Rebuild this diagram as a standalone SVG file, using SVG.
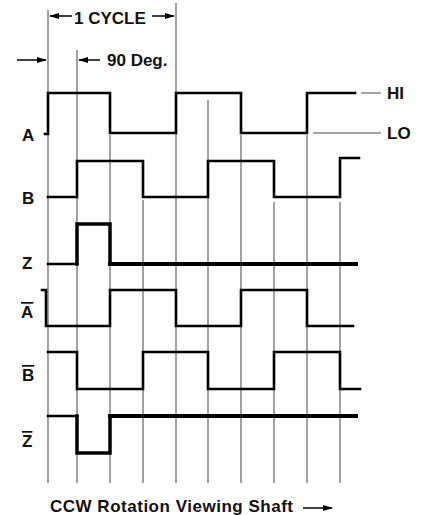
<svg xmlns="http://www.w3.org/2000/svg" width="423" height="515" viewBox="0 0 423 515">
<style>
text{font-family:"Liberation Sans",Arial,sans-serif;font-weight:bold;font-size:17px;fill:#111}
.grid line{stroke:#707070;stroke-width:1.3}
.w{fill:none;stroke:#000;stroke-width:2.6;stroke-linejoin:miter;stroke-linecap:square}
.t{fill:none;stroke:#000;stroke-width:4;stroke-linecap:square}
.g{stroke:#888;stroke-width:1.5}
.a{stroke:#000;stroke-width:1.5;fill:none}
.ov{text-decoration:overline}
</style>
<defs>
<marker id="ah" markerWidth="10" markerHeight="8" refX="9" refY="4" orient="auto" markerUnits="userSpaceOnUse">
<path d="M0,1 L10,4 L0,7 z" fill="#000"/>
</marker>
</defs>
<rect width="423" height="515" fill="#fff"/>
<g id="grid" class="grid">
<line x1="48" y1="10" x2="48" y2="483"/>
<line x1="77" y1="50" x2="77" y2="483"/>
<line x1="110" y1="135" x2="110" y2="483"/>
<line x1="143" y1="200" x2="143" y2="483"/>
<line x1="176" y1="3" x2="176" y2="483"/>
<line x1="208" y1="100" x2="208" y2="483"/>
<line x1="241" y1="135" x2="241" y2="483"/>
<line x1="274" y1="202" x2="274" y2="483"/>
<line x1="307" y1="135" x2="307" y2="483"/>
<line x1="340" y1="202" x2="340" y2="483"/>
</g>
<g id="connectors">
<line class="a" x1="72" y1="16" x2="50" y2="16" marker-end="url(#ah)"/>
<line class="a" x1="152" y1="16" x2="174" y2="16" marker-end="url(#ah)"/>
<line class="a" x1="17" y1="60" x2="46" y2="60" marker-end="url(#ah)"/>
<line class="a" x1="100" y1="60" x2="79" y2="60" marker-end="url(#ah)"/>
<line class="a" x1="303" y1="508" x2="332" y2="508" marker-end="url(#ah)"/>
<line class="g" x1="361" y1="93" x2="381" y2="93"/>
<line class="g" x1="313" y1="133" x2="381" y2="133"/>
</g>
<g id="labels">
<text x="74" y="24">1 CYCLE</text>
<text x="107" y="66">90 Deg.</text>
<text x="387" y="99">HI</text>
<text x="387" y="139">LO</text>
<text x="50" y="512" textLength="243" lengthAdjust="spacing">CCW Rotation Viewing Shaft</text>
</g>
<g id="sigA">
<text x="22" y="141">A</text>
<polyline class="w" points="45,134 48,134 48,93 110,93 110,133 176,133 176,93 241,93 241,133 307,133 307,93 355,93"/>
</g>
<g id="sigB">
<text x="22" y="204">B</text>
<polyline class="w" points="48,197 77,197 77,161 143,161 143,197 208,197 208,161 274,161 274,197 340,197 340,158 359,158"/>
</g>
<g id="sigZ">
<text x="22" y="269">Z</text>
<polyline class="w" points="48,264 77,264"/>
<polyline class="w" style="stroke-width:3.5" points="77,264 77,224 110,224 110,264"/>
<line class="t" x1="110" y1="264" x2="356" y2="264"/>
</g>
<g id="sigAbar">
<text class="ov" x="21" y="318">A</text>
<polyline class="w" points="42,290 46,290 46,326 110,326 110,290 176,290 176,326 241,326 241,290 307,290 307,326 353,326"/>
</g>
<g id="sigBbar">
<text class="ov" x="22" y="381">B</text>
<polyline class="w" points="48,352 77,352 77,389 143,389 143,352 208,352 208,389 274,389 274,352 340,352 340,389 360,389"/>
</g>
<g id="sigZbar">
<text class="ov" x="22" y="447">Z</text>
<polyline class="w" points="48,416 77,416"/>
<polyline class="w" style="stroke-width:3.5" points="77,416 77,453 110,453 110,416"/>
<line class="t" x1="110" y1="416" x2="356" y2="416"/>
</g>
</svg>
